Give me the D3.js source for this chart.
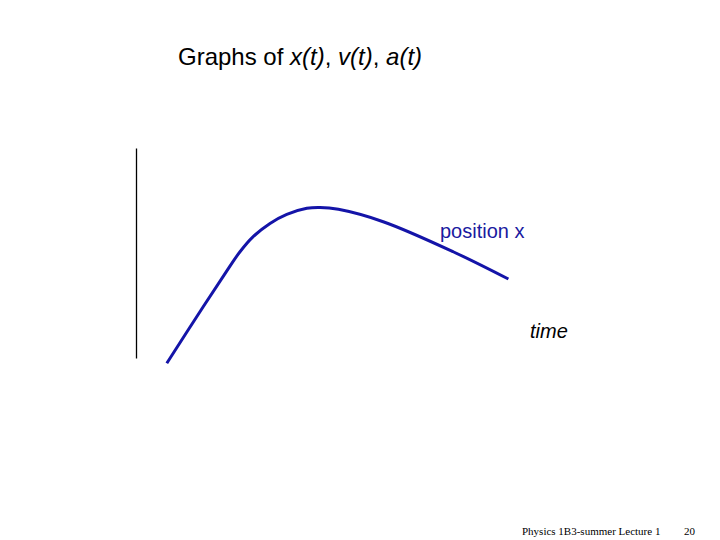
<!DOCTYPE html>
<html><head><meta charset="utf-8">
<script src="https://cdn.jsdelivr.net/npm/d3@7"></script>
<style>body{margin:0;background:#fff}svg{display:block}</style>
</head><body>
<script>
// data
const timeValues = [0.77, 1.68, 2.23, 2.6, 2.93, 3.35, 3.77, 4.27, 4.6, 5.06, 6.18, 7.93, 9.31];
const positionValues = [-0.25, 2.44, 4.03, 5.06, 5.78, 6.41, 6.84, 7.13, 7.17, 7.08, 6.49, 5.06, 3.76];
const titleParts = [["Graphs of ", false], ["x(t)", true], [", ", false], ["v(t)", true], [", ", false], ["a(t)", true]];
const seriesLabel = "position x";
const axisLabel = "time";
const footerText = "Physics 1B3-summer Lecture 1";
const pageNumber = "20";

const W = 720, H = 540;
const svg = d3.select("body").append("svg").attr("width", W).attr("height", H);

const x = d3.scaleLinear().domain([0, 10]).range([136, 536]);
const y = d3.scaleLinear().domain([0, 10]).range([358, 148]);

// vertical axis line
const yAxis = d3.axisLeft(y).tickValues([]).tickSizeOuter(0);
svg.append("g").attr("transform", `translate(${x(0)},0)`).call(yAxis)
  .select(".domain").attr("stroke", "#000").attr("stroke-width", 1.3);

// curve
const line = d3.line().x((d, i) => x(timeValues[i])).y(d => y(d)).curve(d3.curveCatmullRom.alpha(0.5));
svg.append("path").datum(positionValues).attr("d", line)
  .attr("fill", "none").attr("stroke", "#1414a8").attr("stroke-width", 3).attr("stroke-linecap", "butt");

// title
const t = svg.append("text").attr("x", 178).attr("y", 65)
  .attr("font-family", "Liberation Sans, Arial, sans-serif").attr("font-size", 24).attr("fill", "#000");
titleParts.forEach(([s, it]) => t.append("tspan").text(s).attr("font-style", it ? "italic" : "normal"));

// labels
svg.append("text").attr("x", 440).attr("y", 238).text(seriesLabel)
  .attr("font-family", "Liberation Sans, Arial, sans-serif").attr("font-size", 20).attr("fill", "#1a1aa0");
svg.append("text").attr("x", 530).attr("y", 338).text(axisLabel)
  .attr("font-family", "Liberation Sans, Arial, sans-serif").attr("font-size", 20).attr("font-style", "italic").attr("fill", "#000");

// footer
svg.append("text").attr("x", 522).attr("y", 535).text(footerText)
  .attr("font-family", "Liberation Serif, Times New Roman, serif").attr("font-size", 11).attr("fill", "#000");
svg.append("text").attr("x", 684).attr("y", 535).text(pageNumber)
  .attr("font-family", "Liberation Serif, Times New Roman, serif").attr("font-size", 11).attr("fill", "#000");
</script>
</body></html>
